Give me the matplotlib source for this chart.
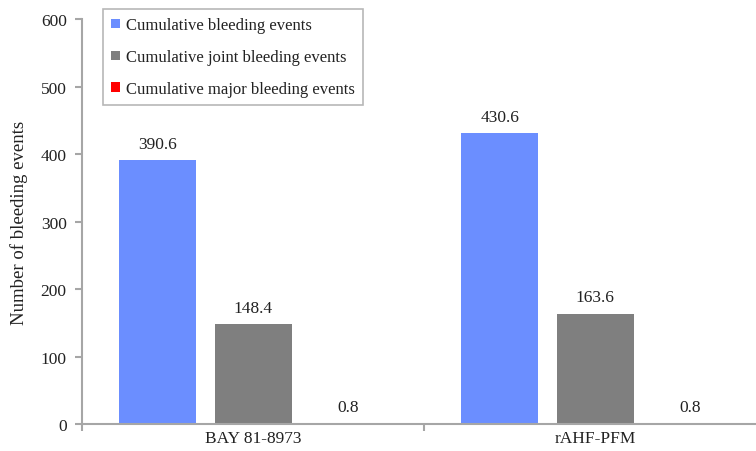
import numpy as np
import matplotlib.pyplot as plt

plt.rcParams['font.family'] = ['Liberation Serif', 'DejaVu Serif']

groups = ['BAY 81-8973', 'rAHF-PFM']
series = ['Cumulative bleeding events', 'Cumulative joint bleeding events',
          'Cumulative major bleeding events']
bleeding = [390.6, 430.6]
joint = [148.4, 163.6]
major = [0.8, 0.8]
colors = ['#6B8EFF', '#7F7F7F', '#FF0000']

fig = plt.figure(figsize=(7.56, 4.52), dpi=100)
ax = fig.add_axes([0.1085, 0.0597, 0.9048, 0.896])

x = np.arange(len(groups))
w = 0.225
step = 0.278
for i, (vals, c, lab) in enumerate(zip([bleeding, joint, major], colors, series)):
    bars = ax.bar(x + (i - 1) * step, vals, w, color=c, label=lab)
    for b, v in zip(bars, vals):
        ax.annotate(f'{v:.1f}', (b.get_x() + b.get_width() / 2, v),
                    xytext=(0, 6), textcoords='offset points',
                    ha='center', va='bottom', fontsize=12.5, color='#222222')

ax.set_xlim(-0.5, 1.5)
ax.set_ylim(0, 600)
ax.set_yticks(range(0, 601, 100))
ax.set_xticks(x)
ax.set_xticklabels(groups)
ax.set_xticks([-0.5, 0.5, 1.5], minor=True)
ax.tick_params(axis='x', which='major', length=0, pad=4, labelsize=12.5, labelcolor='#222222')
ax.tick_params(axis='x', which='minor', length=5, width=1.5, color='#A6A6A6', direction='out')
ax.tick_params(axis='y', length=5, width=1.5, color='#A6A6A6', labelsize=12.5, labelcolor='#222222', pad=6)
for s in ['top', 'right']:
    ax.spines[s].set_visible(False)
for s in ['left', 'bottom']:
    ax.spines[s].set_color('#A6A6A6')
    ax.spines[s].set_linewidth(1.5)
ax.set_ylabel('Number of bleeding events', fontsize=13.5, color='#222222', labelpad=9)

leg = ax.legend(loc='upper left', bbox_to_anchor=(0.0307, 1.0247), fontsize=12,
                borderaxespad=0, handlelength=0.5, handleheight=0.5, handletextpad=0.35,
                labelspacing=0.95, borderpad=0.5, fancybox=False, frameon=True,
                labelcolor='#222222')
leg.get_frame().set_edgecolor('#A6A6A6')
leg.get_frame().set_linewidth(1.2)

fig.savefig('out.png', dpi=100)
